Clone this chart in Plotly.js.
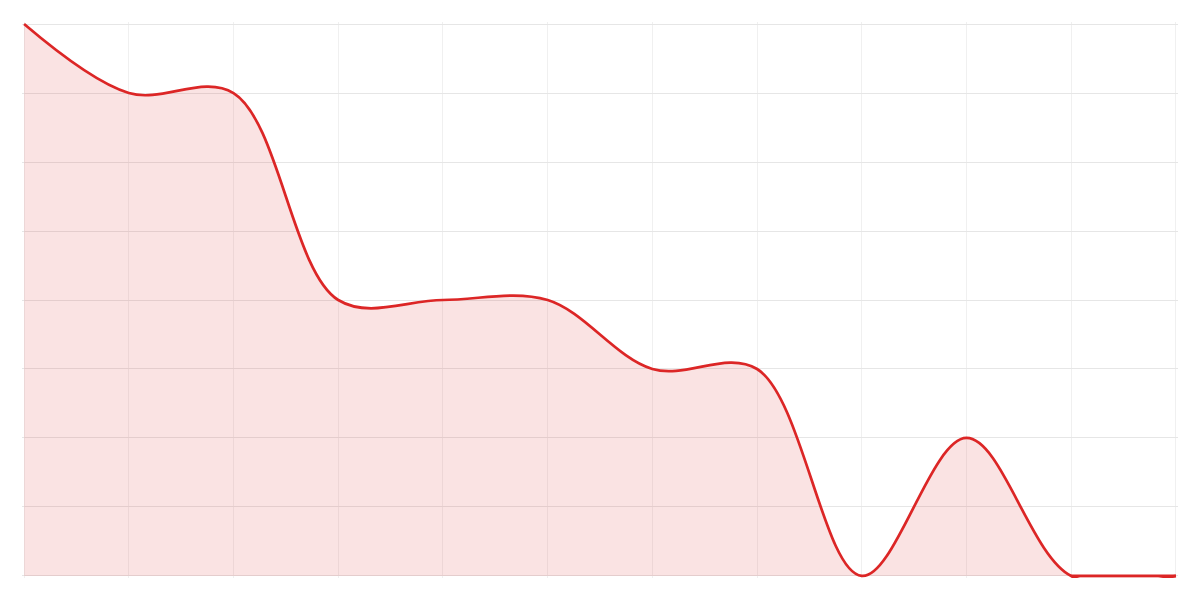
<!DOCTYPE html>
<html>
<head>
<meta charset="utf-8">
<script src="https://cdn.plot.ly/plotly-3.0.1.min.js"></script>
<style>
  html, body { margin: 0; padding: 0; background: #fff; }
  #myDiv { width: 1200px; height: 600px; }
</style>
</head>
<body>
<div id="myDiv"></div>
<script>
var steps = [0, 1, 2, 3, 4, 5, 6, 7, 8, 9, 10, 11];
var values = [8, 7, 7, 4, 4, 4, 3, 3, 0, 2, 0, 0];

var red = '#dc2626';

// smooth curve with the shaded area
var curve = {
  x: steps,
  y: values,
  type: 'scatter',
  mode: 'lines',
  line: { color: red, width: 2.7, shape: 'spline', smoothing: 1 },
  fill: 'tozeroy',
  fillcolor: 'rgba(220,38,38,0.13)',
  hoverinfo: 'x+y'
};

// the spline dips under zero at the end, keep the tail flat on top of it
var tail = {
  x: steps.slice(10),
  y: values.slice(10),
  type: 'scatter',
  mode: 'lines',
  line: { color: red, width: 2.7 },
  hoverinfo: 'x+y'
};

var layout = {
  width: 1200,
  height: 600,
  margin: { l: 22, r: 22, t: 22, b: 22 },
  paper_bgcolor: '#ffffff',
  plot_bgcolor: '#ffffff',
  showlegend: false,
  xaxis: {
    range: [-0.02, 11.02],
    dtick: 1,
    tick0: 0,
    showticklabels: false,
    ticks: '',
    showgrid: true,
    gridcolor: '#f0f0f0',
    gridwidth: 1,
    zeroline: false,
    showline: false
  },
  yaxis: {
    range: [-0.03, 8.03],
    dtick: 1,
    tick0: 0,
    showticklabels: false,
    ticks: '',
    showgrid: true,
    gridcolor: '#e6e6e6',
    gridwidth: 1,
    zeroline: false,
    showline: false
  }
};

Plotly.newPlot('myDiv', [curve, tail], layout, { displayModeBar: false, staticPlot: true });
</script>
</body>
</html>
